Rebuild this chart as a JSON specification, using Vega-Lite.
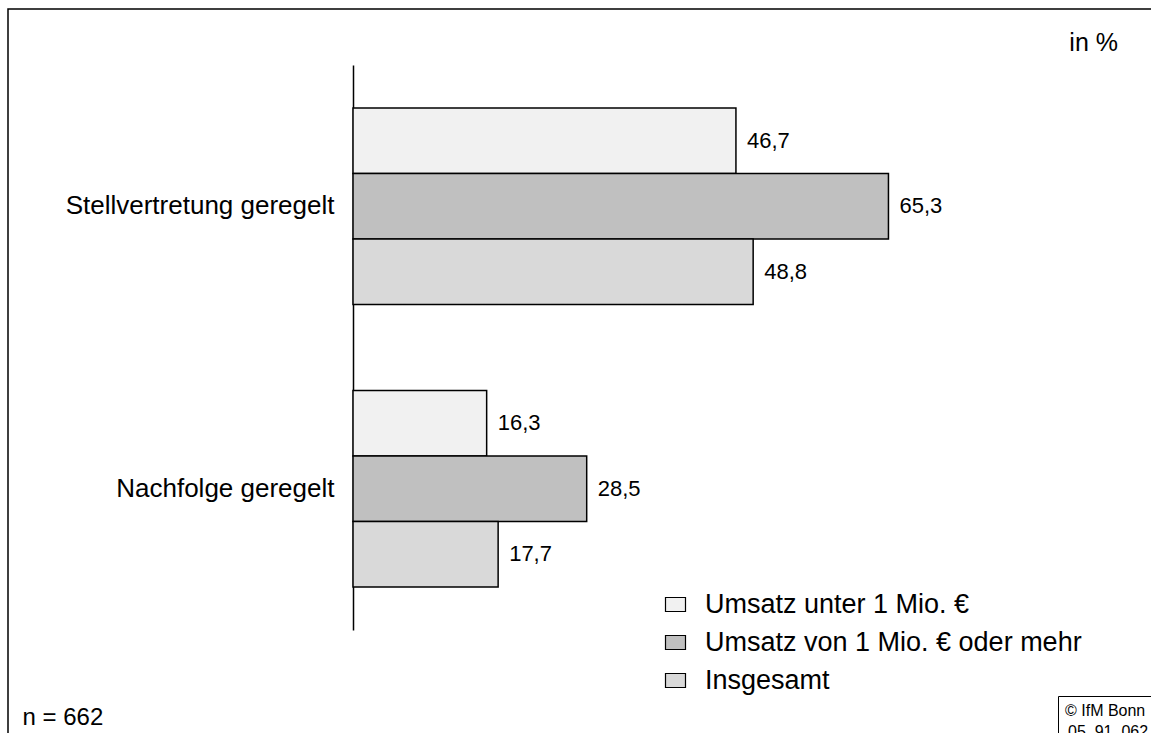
{
  "$schema": "https://vega.github.io/schema/vega-lite/v6.json",
  "width": 1153,
  "height": 735,
  "autosize": {"type": "none"},
  "padding": {"left": 8, "top": 9, "right": -10, "bottom": -11},
  "background": "white",
  "config": {
    "font": "Liberation Sans",
    "locale": {"number": {"decimal": ",", "thousands": ".", "grouping": [3], "currency": ["", " €"]}},
    "view": {"stroke": "black", "strokeWidth": 1.5}
  },
  "title": {
    "text": "in %",
    "anchor": "end",
    "frame": "group",
    "orient": "top",
    "offset": -67,
    "dx": -43,
    "fontSize": 25,
    "fontWeight": "normal",
    "color": "black",
    "baseline": "alphabetic"
  },
  "data": {
    "values": [
      {"Kategorie": "Stellvertretung geregelt", "Gruppe": "Umsatz unter 1 Mio. €", "Anteil": 46.7},
      {"Kategorie": "Stellvertretung geregelt", "Gruppe": "Umsatz von 1 Mio. € oder mehr", "Anteil": 65.3},
      {"Kategorie": "Stellvertretung geregelt", "Gruppe": "Insgesamt", "Anteil": 48.8},
      {"Kategorie": "Nachfolge geregelt", "Gruppe": "Umsatz unter 1 Mio. €", "Anteil": 16.3},
      {"Kategorie": "Nachfolge geregelt", "Gruppe": "Umsatz von 1 Mio. € oder mehr", "Anteil": 28.5},
      {"Kategorie": "Nachfolge geregelt", "Gruppe": "Insgesamt", "Anteil": 17.7}
    ]
  },
  "encoding": {
    "y": {
      "field": "Kategorie",
      "type": "nominal",
      "sort": ["Stellvertretung geregelt", "Nachfolge geregelt"],
      "scale": {"range": [56, 621], "paddingInner": 0.3044, "paddingOuter": 0.1522},
      "axis": {
        "title": null,
        "orient": "left",
        "offset": -345,
        "ticks": false,
        "grid": false,
        "domainColor": "black",
        "domainWidth": 1.5,
        "labelFontSize": 26,
        "labelColor": "black",
        "labelPadding": 19,
        "labelLimit": 0
      }
    },
    "yOffset": {
      "field": "Gruppe",
      "type": "nominal",
      "sort": ["Umsatz unter 1 Mio. €", "Umsatz von 1 Mio. € oder mehr", "Insgesamt"],
      "scale": {"paddingInner": 0, "paddingOuter": 0}
    },
    "x": {
      "field": "Anteil",
      "type": "quantitative",
      "scale": {"domain": [0, 90], "range": [345, 1083]},
      "axis": {
        "orient": "bottom",
        "labels": false,
        "ticks": false,
        "domain": false,
        "grid": false,
        "title": "n = 662",
        "titleX": 14,
        "titleY": -20,
        "titleAnchor": "start",
        "titleAlign": "left",
        "titleBaseline": "alphabetic",
        "titleFontSize": 24,
        "titleFontWeight": "normal",
        "titleColor": "black"
      }
    }
  },
  "layer": [
    {
      "mark": {"type": "bar", "stroke": "black", "strokeWidth": 1.5},
      "encoding": {
        "fill": {
          "field": "Gruppe",
          "type": "nominal",
          "sort": ["Umsatz unter 1 Mio. €", "Umsatz von 1 Mio. € oder mehr", "Insgesamt"],
          "scale": {
            "domain": ["Umsatz unter 1 Mio. €", "Umsatz von 1 Mio. € oder mehr", "Insgesamt"],
            "range": ["#f1f1f1", "#c0c0c0", "#d9d9d9"]
          },
          "legend": {
            "title": null,
            "orient": "none",
            "legendX": 654,
            "legendY": 582,
            "padding": 0,
            "symbolType": "M-1,-0.7H1V0.7H-1Z",
            "symbolSize": 400,
            "symbolStrokeColor": "black",
            "symbolStrokeWidth": 1.2,
            "labelFontSize": 27,
            "labelColor": "black",
            "labelOffset": 16,
            "rowPadding": 10,
            "labelLimit": 0
          }
        },
        "strokeDash": {
          "datum": "05_91_062",
          "legend": {
            "title": "© IfM Bonn",
            "orient": "none",
            "legendX": 1050,
            "legendY": 687,
            "strokeColor": "black",
            "padding": 7,
            "titleFontSize": 16,
            "titleFontWeight": "normal",
            "titleColor": "black",
            "titlePadding": 5,
            "labelFontSize": 16,
            "labelColor": "black",
            "symbolOpacity": 0,
            "symbolSize": 0,
            "symbolStrokeWidth": 0,
            "labelOffset": -13
          }
        }
      }
    },
    {
      "mark": {"type": "text", "align": "left", "baseline": "middle", "dx": 11, "fontSize": 22, "color": "black"},
      "encoding": {
        "text": {"field": "Anteil", "type": "quantitative", "format": ".1f"}
      }
    }
  ]
}
